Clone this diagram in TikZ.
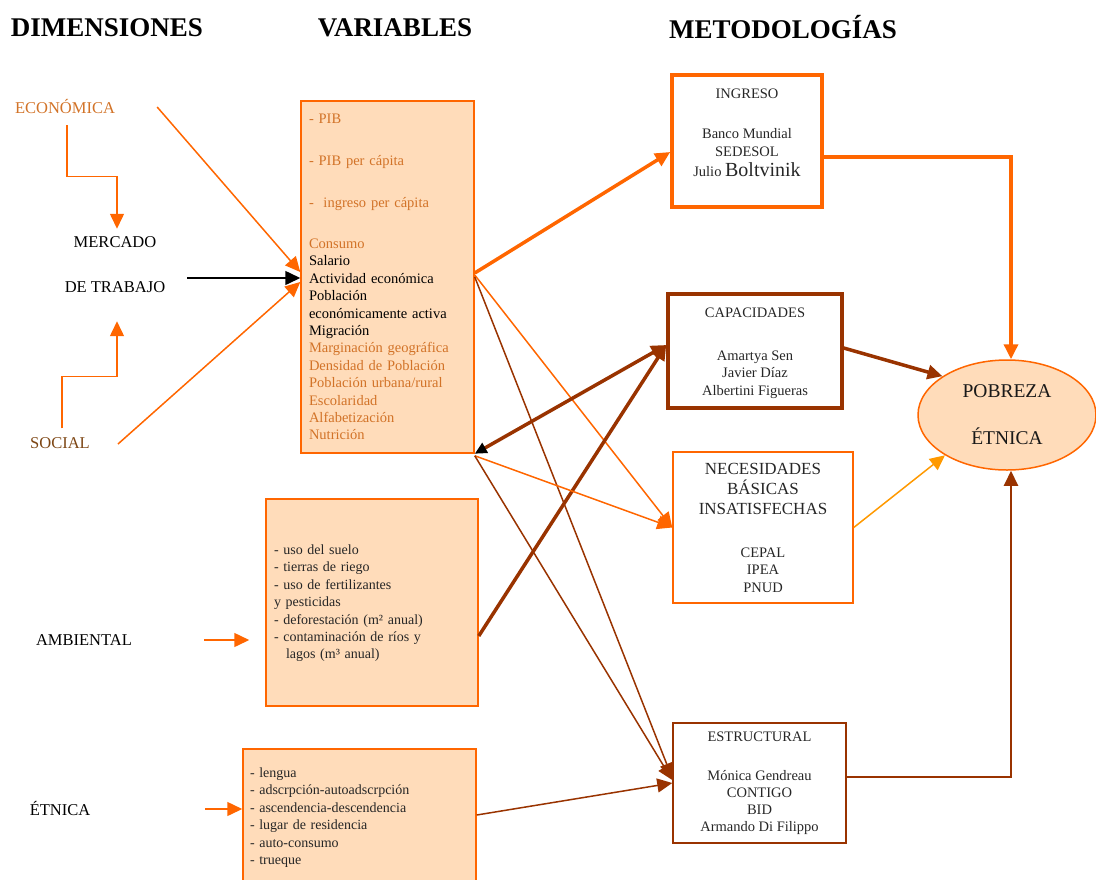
\documentclass[tikz,border=0pt]{standalone}
\usepackage{fontspec}
\setmainfont{Liberation Serif}
\usepackage{xcolor}
\usepackage{tikz}
\usetikzlibrary{shapes.geometric, arrows.meta, positioning, calc}

\definecolor{orng}{HTML}{FF6600}
\definecolor{brwn}{HTML}{993300}
\definecolor{peach}{HTML}{FFDCBA}
\definecolor{txtor}{RGB}{210,115,40}
\definecolor{socbrown}{RGB}{125,70,20}
\definecolor{amber}{HTML}{FF9900}

\newcommand{\fsz}[2]{\fontsize{#1}{#2}\selectfont}

\begin{document}
\begin{tikzpicture}[
    x=1pt, y=-1pt,
    >={Triangle[length=15pt,width=14pt]},
    ttl/.style    ={font=\bfseries\fsz{27}{30}, inner sep=0pt},
    dim/.style    ={font=\fsz{16.5}{20}, inner sep=0pt, align=center},
    varbox/.style ={rectangle, draw=orng, fill=peach, line width=1.5pt,
                    inner xsep=8pt, inner ysep=0pt, align=left},
    metbox/.style ={rectangle, inner sep=0pt},
    methead/.style={font=\fsz{14.5}{17.5}, inner sep=0pt, align=center, text=black!85},
    metnames/.style={font=\fsz{14.5}{17.5}, inner sep=0pt, align=center, text=black!85, anchor=north},
    olnk/.style   ={->, draw=orng, line width=1.5pt},
    othick/.style ={->, draw=orng, line width=3.5pt},
    blnk/.style   ={->, draw=brwn, line width=1.5pt},
    bthick/.style ={->, draw=brwn, line width=3.5pt},
]
\useasboundingbox (0,0) rectangle (1096,879);

% ---- Headings ----
\node[ttl] (ttldim) at (107,28) {DIMENSIONES};
\node[ttl] (ttlvar) at (395,28) {VARIABLES};
\node[ttl] (ttlmet) at (783,27) {METODOLOGÍAS};

% ---- Dimensions ----
\node[dim, text=txtor]    (econ)    at (65,106)  {ECONÓMICA};
\node[dim]                (mercado) at (115,265) {MERCADO\\[25pt]DE TRABAJO};
\node[dim, text=socbrown] (social)  at (60,443)  {SOCIAL};
\node[dim]                (amb)     at (84,640)  {AMBIENTAL};
\node[dim]                (etn)     at (60,808)  {ÉTNICA};

% ---- Variables ----
\node[varbox, minimum width=173pt, minimum height=352pt, text width=157pt,
      font=\fsz{14.5}{17.4}, text=txtor] (econvar) at (387.5,277)
  {- PIB\\[24.6pt]- PIB per cápita\\[24.6pt]-~ ingreso per cápita\\[23.6pt]
   Consumo\\
   \textcolor{black}{Salario}\\
   \textcolor{black}{Actividad económica}\\
   \textcolor{black}{Población}\\
   \textcolor{black}{económicamente activa}\\
   \textcolor{black}{Migración}\\
   Marginación geográfica\\
   Densidad de Población\\
   Población urbana/rural\\
   Escolaridad\\
   Alfabetización\\
   Nutrición};

\node[varbox, minimum width=212pt, minimum height=207pt, text width=196pt,
      font=\fsz{14}{17.4}, text=black!85] (ambvar) at (372,602.5)
  {\\[-6pt]- uso del suelo\\
   - tierras de riego\\
   - uso de fertilizantes\\
   y pesticidas\\
   - deforestación (m² anual)\\
   - contaminación de ríos y\\
   \hspace*{12pt}lagos (m³ anual)};

\node[varbox, minimum width=233pt, minimum height=137pt, text width=219pt,
      inner xsep=7pt, font=\fsz{14}{17.5}, text=black!85] (etnvar) at (359.5,817.5)
  {- lengua\\
   - adscrpción-autoadscrpción\\
   - ascendencia-descendencia\\
   - lugar de residencia\\
   - auto-consumo\\
   - trueque};

% ---- Methodologies ----
\node[metbox, draw=orng, line width=3.5pt, minimum width=150pt, minimum height=132pt] (ingreso) at (747,141) {};
\node[methead] (ingresohd) at ([yshift=-21pt]ingreso.north) {INGRESO};
\node[metnames, font=\fsz{14.5}{18}] (ingresonm) at ([yshift=-55pt]ingreso.north)
  {Banco Mundial\\SEDESOL\\[2pt]Julio {\fsz{20}{20}Boltvinik}};

\node[metbox, draw=brwn, line width=3.5pt, minimum width=174pt, minimum height=114pt] (capac) at (755,351) {};
\node[methead] (capachd) at ([yshift=-21pt]capac.north) {CAPACIDADES};
\node[metnames] (capacnm) at ([yshift=-58pt]capac.north)
  {Amartya Sen\\Javier Díaz\\Albertini Figueras};

\node[metbox, draw=orng, line width=1.5pt, minimum width=180pt, minimum height=151pt] (nbi) at (763,527.5) {};
\node[metnames, font=\fsz{17}{20}] (nbihd) at ([yshift=-11.4pt]nbi.north)
  {NECESIDADES\\BÁSICAS\\INSATISFECHAS};
\node[metnames] (nbinm) at ([yshift=-96pt]nbi.north) {CEPAL\\IPEA\\PNUD};

\node[metbox, draw=brwn, line width=1.5pt, minimum width=173pt, minimum height=120pt] (estruc) at (759.5,783) {};
\node[methead] (estruchd) at ([yshift=-15pt]estruc.north) {ESTRUCTURAL};
\node[metnames, font=\fsz{14.5}{17}] (estrucnm) at ([yshift=-48pt]estruc.north)
  {Mónica Gendreau\\CONTIGO\\BID\\Armando Di Filippo};

% ---- Result ----
\node[ellipse, draw=orng, fill=peach, line width=1.5pt, minimum width=178pt, minimum height=110pt,
      inner sep=0pt, align=center, font=\fsz{19.5}{23}, text=black!90] (pobreza) at (1007,415)
  {POBREZA\\[24pt]ÉTNICA};

% ---- Arrows: dimensions ----
\draw[olnk] ([xshift=2pt,yshift=-12pt]econ.south) -- ++(0,51) -| ([xshift=2pt,yshift=8pt]mercado.north);
\draw[olnk] ([xshift=2pt,yshift=9pt]social.north) -- ++(0,-52) -| ([xshift=2pt,yshift=-28pt]mercado.south);
\draw[olnk] ($(econ.east)+(42,1)$) -- ([yshift=5pt]econvar.west);
\draw[olnk] ($(social.east)+(28,1)$) -- ([yshift=-5pt]econvar.west);
\draw[->, line width=1.5pt] ($(mercado.east)+(22,13)$) -- ([yshift=-1pt]econvar.west);
\draw[olnk] ($(amb.east)+(72,0)$) -- ($(ambvar.west |- amb.east)+(-16,0)$);
\draw[olnk] ($(etn.east)+(115,1)$) -- (etnvar.west |- 0,809);

% ---- Arrows: variables to methodologies ----
\draw[othick] ([yshift=4pt]econvar.east) -- ([yshift=-11pt]ingreso.west);
\draw[olnk] ([yshift=2pt]econvar.east) -- (nbi.west);
\draw[blnk] (econvar.east) -- ([yshift=5pt]estruc.west);
\draw[bthick, {Triangle[length=12pt,width=11pt,color=black]}-{Triangle[length=15pt,width=14pt]}]
  (econvar.south east) -- ([yshift=6pt]capac.west);
\draw[bthick] ([yshift=-33.5pt]ambvar.east) -- ([yshift=6pt]capac.west);
\draw[olnk] ([yshift=-2pt]econvar.south east) -- (nbi.west);
\draw[blnk] ([yshift=-2pt]econvar.south east) -- ([yshift=3pt]estruc.west);
\draw[blnk] ([yshift=2.5pt]etnvar.east) -- (estruc.west);

% ---- Arrows: methodologies to result ----
\draw[othick] ([yshift=-16pt]ingreso.east) -| ([xshift=4pt]pobreza.north);
\draw[bthick] ([yshift=3pt]capac.east) -- (pobreza.149);
\draw[->, draw=amber, line width=1.5pt] (nbi.east) -- (pobreza.213);
\draw[->, draw=brwn, line width=2pt] ([yshift=6pt]estruc.east) -| ([xshift=4pt]pobreza.south);

\end{tikzpicture}
\end{document}
